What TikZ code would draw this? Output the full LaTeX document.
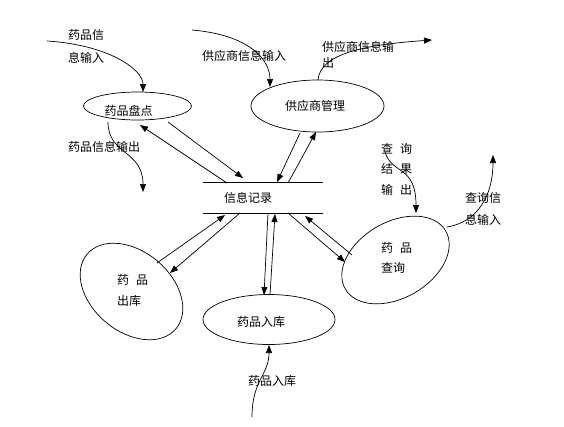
\documentclass[tikz,border=0pt]{standalone}
\usepackage{fontspec}
\setmainfont{Noto Sans CJK SC}
\usetikzlibrary{arrows.meta,shapes.geometric}
\begin{document}
\begin{tikzpicture}[x=1pt,y=-1pt,
  flow/.style={line width=0.7pt,-{Triangle[length=8pt,width=6pt]}},
  plain/.style={line width=0.7pt},
  proc/.style={draw,line width=0.7pt,ellipse,inner sep=0pt},
  lbl/.style={inner sep=0pt,font=\fontsize{12}{14}\selectfont,align=left},
]
\useasboundingbox (0,0) rectangle (564,426);

% processes
\node[proc,minimum width=108pt,minimum height=28pt] (pandian) at (137.5,106) {};
\node[proc,minimum width=133pt,minimum height=52pt] (gys) at (317.5,106) {};
\node[proc,minimum width=132pt,minimum height=50pt] (ruku) at (269,319.5) {};
\node[proc,minimum width=116pt,minimum height=76pt,rotate=30] (chaxun) at (395.5,260) {};
\node[proc,minimum width=116pt,minimum height=80pt,rotate=-40] (chuku) at (131.5,291.5) {};

% data store
\node[minimum width=120pt,minimum height=30pt,inner sep=0pt] (jilu) at (263,198) {};
\draw[plain] (jilu.north west) -- (jilu.north east);
\draw[plain] (jilu.south west) -- (jilu.south east);

% texts inside
\node[lbl] (tpandian) at (128.5,111) {药品盘点};
\node[lbl] (tgys) at (315,106) {供应商管理};
\node[lbl] (truku) at (261,322) {药品入库};
\node[lbl] (tjilu) at (248,198) {信息记录};
\node[lbl,anchor=west,font=\fontsize{12}{20}\selectfont] (tchaxun) at (381,258) {药\hspace{7pt}品\\查询};
\node[lbl,anchor=west,font=\fontsize{12}{21}\selectfont] (tchuku) at (117,290.5) {药\hspace{7pt}品\\出库};

% flow labels
\node[lbl,anchor=west,font=\fontsize{12}{23}\selectfont] (l1) at (68,46.5) {药品信\\息输入};
\node[lbl,anchor=west] (l2) at (68,147) {药品信息输出};
\node[lbl,anchor=west] (l3) at (202,56) {供应商信息输入};
\node[lbl,anchor=west,font=\fontsize{12}{16}\selectfont] (l4) at (322,55) {供应商信息输\\出};
\node[lbl,anchor=west,font=\fontsize{12}{20.5}\selectfont] (l5) at (381,169) {查\hspace{7pt}询\\结\hspace{7pt}果\\输\hspace{7pt}出};
\node[lbl,anchor=west,font=\fontsize{12}{22}\selectfont] (l6) at (465,209) {查询信\\息输入};
\node[lbl] (l7) at (272,381) {药品入库};

% endpoints
\coordinate (a1) at (168,122); \coordinate (a2) at (243,178);
\coordinate (b1) at (227,183); \coordinate (b2) at (140,125);
\coordinate (c1) at (300,133); \coordinate (c2) at (277,182);
\coordinate (d1) at (288,183); \coordinate (d2) at (316,132);
\coordinate (e1) at (157,263); \coordinate (e2) at (225,215);
\coordinate (f1) at (240,213); \coordinate (f2) at (170,273);
\coordinate (g1) at (268,213); \coordinate (g2) at (264,295);
\coordinate (h1) at (270,295); \coordinate (h2) at (275,214);
\coordinate (i1) at (288,213); \coordinate (i2) at (345,262);
\coordinate (j1) at (352,255); \coordinate (j2) at (305,216);

\draw[flow] (a1) -- (a2);
\draw[flow] (b1) -- (b2);
\draw[flow] (c1) -- (c2);
\draw[flow] (d1) -- (d2);
\draw[flow] (e1) -- (e2);
\draw[flow] (f1) -- (f2);
\draw[flow] (g1) -- (g2);
\draw[flow] (h1) -- (h2);
\draw[flow] (i1) -- (i2);
\draw[flow] (j1) -- (j2);

% external flows
\coordinate (s1) at (47,41);   \coordinate (t1) at (143,92);
\coordinate (s2) at (108,122); \coordinate (t2) at (143,192);
\coordinate (s3) at (192,30);  \coordinate (t3) at (270,87);
\coordinate (s4) at (318,80);  \coordinate (t4) at (432,40);
\coordinate (s5) at (252,417); \coordinate (t5) at (269,345);
\coordinate (s6) at (385,152); \coordinate (t6) at (416,213);
\coordinate (s7) at (447,227); \coordinate (t7) at (493,155);

\draw[flow] (s1) .. controls (110,45) and (143,70) .. (t1);
\draw[flow] (s2) .. controls (108,155) and (143,150) .. (t2);
\draw[flow] (s3) .. controls (250,35) and (270,60) .. (t3);
\draw[flow] (s4) .. controls (320,55) and (360,45) .. (t4);
\draw[flow] (s5) .. controls (252,380) and (269,375) .. (t5);
\draw[flow] (s6) .. controls (392,175) and (416,165) .. (t6);
\draw[flow] (s7) .. controls (478,222) and (493,195) .. (t7);
\end{tikzpicture}
\end{document}
